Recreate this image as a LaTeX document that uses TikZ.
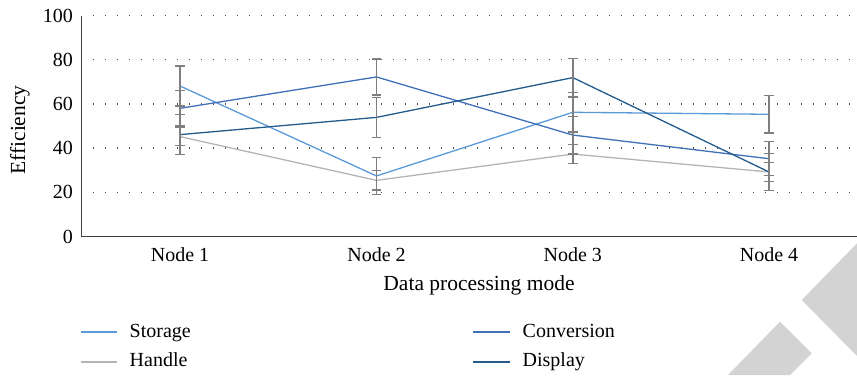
\documentclass[tikz,border=0pt]{standalone}
\usepackage{fontspec}
\setmainfont{Liberation Serif}
\definecolor{cstorage}{HTML}{5A9AD8}
\definecolor{cconv}{HTML}{3F70B8}
\definecolor{cdisp}{HTML}{235B8C}
\definecolor{chandle}{HTML}{B4B4B4}
\definecolor{cerr}{HTML}{7F7F7F}
\definecolor{cmark}{HTML}{D3D3D3}
\begin{document}
\begin{tikzpicture}[x=1pt,y=1pt,font=\fontsize{20}{24}\selectfont,
  axisline/.style={draw=black!75,line width=1.1pt},
  gridline/.style={draw=black!70,line width=1.3pt,dash pattern=on 1.3pt off 10.7pt},
  series/.style={line width=1.3pt,line join=round},
  storage/.style={series,draw=cstorage},
  conversion/.style={series,draw=cconv},
  display/.style={series,draw=cdisp},
  handle/.style={series,draw=chandle},
  legline/.style={line width=2pt},
  errbar/.style={draw=cerr,line width=1.4pt},
  ticklabel/.style={anchor=east,inner sep=0pt},
  txt/.style={inner sep=0pt},
  title/.style={inner sep=0pt,font=\fontsize{21.5}{26}\selectfont}]
\useasboundingbox (0,0) rectangle (857,-375);
% watermark shapes
\fill[cmark] (857,-243.3) -- (801.7,-300) -- (857,-356) -- cycle;
\fill[cmark] (728,-375) -- (780,-321.7) -- (811.7,-353.3) -- (790,-375) -- cycle;
% axes
\coordinate (otop) at (81.7,-15.5);
\coordinate (orig) at (81.7,-236.5);
\coordinate (xend) at (857,-236.5);
\begin{scope}[shift={(0pt,-236.5pt)},y=2.21pt]
  \foreach \v in {20,40,60,80,100}{
    \coordinate (gl\v) at (93,\v);
    \coordinate (gr\v) at (857,\v);
    \draw[gridline] (gl\v) -- (gr\v);
  }
  \foreach \v in {0,20,40,60,80,100}{
    \node[ticklabel] (tl\v) at (73,\v) {\v};
  }
  % data points
  \foreach \n/\x/\v/\e in {S1/180/68.1/9, C1/180/58/8, D1/180/46.1/9, H1/180/45.2/4,
                           S2/376.5/27.4/8.4, C2/376.5/72.2/8.2, D2/376.5/53.9/9, H2/376.5/25.4/4.4,
                           S3/572.8/56.2/9, C3/572.8/45.9/8.5, D3/572.8/71.9/8.7, H3/572.8/37.3/4.3,
                           S4/769/55.3/8.5, C4/769/35.2/7.7, D4/769/29.2/8.3, H4/769/29.2/4.4}{
    \coordinate (\n) at (\x,\v);
    \coordinate (\n t) at (\x,\v+\e);
    \coordinate (\n b) at (\x,\v-\e);
  }
\end{scope}
\draw[axisline] (otop) -- (orig) -- (xend);
% series lines
\draw[handle] (H1) -- (H2) -- (H3) -- (H4);
\draw[storage] (S1) -- (S2) -- (S3) -- (S4);
\draw[conversion] (C1) -- (C2) -- (C3) -- (C4);
\draw[display] (D1) -- (D2) -- (D3) -- (D4);
% error bars
\foreach \n in {S1,C1,D1,H1,S2,C2,D2,H2,S3,C3,D3,H3,S4,C4,D4,H4}{
  \draw[errbar] (\n b) -- (\n t);
  \draw[errbar] ([xshift=-4.7pt]\n t) -- ([xshift=4.7pt]\n t);
  \draw[errbar] ([xshift=-4.7pt]\n b) -- ([xshift=4.7pt]\n b);
}
% category labels
\node[txt,anchor=base] (n1) at (180,-261.7) {Node 1};
\node[txt,anchor=base] (n2) at (376.5,-261.7) {Node 2};
\node[txt,anchor=base] (n3) at (572.8,-261.7) {Node 3};
\node[txt,anchor=base] (n4) at (769,-261.7) {Node 4};
\node[title,anchor=base] (xlab) at (479,-290) {Data processing mode};
\node[title,anchor=base,rotate=90] (ylab) at (25,-130) {Efficiency};
% legend
\coordinate (la1) at (81,-332); \coordinate (lb1) at (117,-332);
\coordinate (la2) at (81,-362); \coordinate (lb2) at (117,-362);
\coordinate (la3) at (473,-332); \coordinate (lb3) at (510,-332);
\coordinate (la4) at (473,-362); \coordinate (lb4) at (510,-362);
\draw[storage,legline] (la1) -- (lb1);
\draw[handle,legline] (la2) -- (lb2);
\draw[conversion,legline] (la3) -- (lb3);
\draw[display,legline] (la4) -- (lb4);
\node[txt,anchor=base west] (lt1) at (129.5,-337.7) {Storage};
\node[txt,anchor=base west] (lt2) at (129.5,-366.7) {Handle};
\node[txt,anchor=base west] (lt3) at (522.5,-337.7) {Conversion};
\node[txt,anchor=base west] (lt4) at (522.5,-366.7) {Display};
\end{tikzpicture}
\end{document}
